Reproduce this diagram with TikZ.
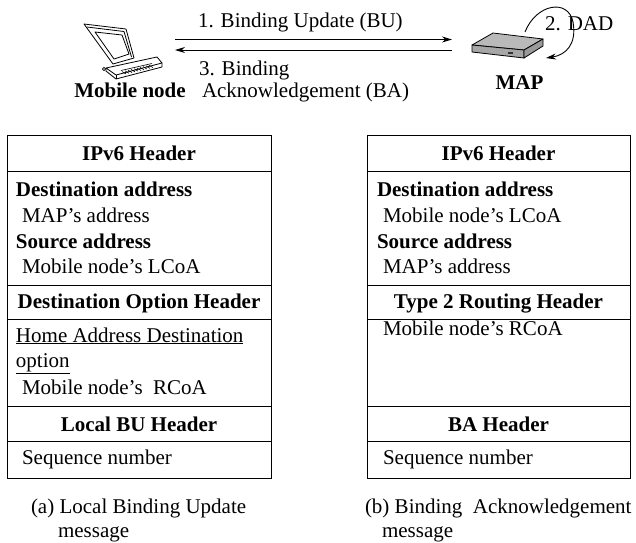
\documentclass[tikz,border=0pt]{standalone}
\usepackage{fontspec}
\setmainfont{Liberation Serif}
\usetikzlibrary{arrows.meta}
\begin{document}
\begin{tikzpicture}[x=1pt,y=-1pt,
  every node/.style={font=\fontsize{21}{25}\selectfont, inner sep=0pt, outer sep=0pt},
  rowbox/.style={draw, line width=1pt, anchor=north west, inner sep=0pt},
  lbox/.style={rowbox, minimum width=264pt},
  rbox/.style={rowbox, minimum width=263pt},
  hd/.style={font=\fontsize{21}{25}\selectfont\bfseries, anchor=base},
  bt/.style={font=\fontsize{21}{25}\selectfont\bfseries, anchor=base west},
  tx/.style={anchor=base west},
  device/.style={minimum width=93pt, minimum height=20pt},
  msg/.style={-{Stealth[length=10pt,width=6pt]}, line width=0.9pt},
  icon/.style={line width=0.8pt, line join=round},
]
\useasboundingbox (0,0) rectangle (636,542);

% ---------- devices ----------
\node[device] (mobile) at (128.5,45) {};
\node[device] (map) at (498.5,45) {};

% laptop
\draw[icon, fill=white] (84,24) -- (126,29) -- (134,58) -- (113,64) -- cycle;
\draw[icon] (87,27) -- (124,31.5) -- (131.5,57);
\draw[icon] (95,32) -- (122,35) -- (129,54) -- (114,59) -- cycle;
\draw[icon, fill=white] (106,68) -- (157,57) -- (162,63) -- (116,75) -- cycle;
\draw[icon] (106,68) -- (106,71) -- (116,79) -- (162,67) -- (162,63);
\draw[icon] (116,75) -- (116,79);
\foreach \i in {0,...,9}
  \draw[line width=0.6pt] ({122+3*\i},{71.5-0.7*\i}) -- ({126+3*\i},{74-0.7*\i});
\draw[line width=0.6pt] (121,70.5) -- (152,63.5);
\draw[icon] (104,69) circle (1.6);

% MAP box
\draw[icon, fill=gray!55] (472,45) -- (493,33) -- (543,39) -- (524,50) -- cycle;
\draw[icon, fill=gray!70] (472,45) -- (524,50) -- (524,58) -- (472,52) -- cycle;
\draw[icon, fill=gray!80] (524,50) -- (543,39) -- (543,46) -- (524,58) -- cycle;
\fill[black!80] (508,51.5) rectangle (513,53.5);

% labels of the devices
\node[hd] (mnlabel) at (130,97) {Mobile node};
\node[hd] (maplabel) at (519.5,89) {MAP};

% messages between the mobile node and the MAP
\draw[msg] ([yshift=5.5pt]mobile.east) -- ([yshift=5.5pt]map.west);
\draw[msg] ([yshift=-5pt]map.west) -- ([yshift=-5pt]mobile.east);
\node[tx] (bu) at (198,27) {1. Binding Update (BU)};
\node[tx] (ba1) at (199,75) {3. Binding};
\node[tx] (ba2) at (202,97) {Acknowledgement (BA)};

% duplicate address detection at the MAP
\coordinate (dadout) at (525,32);
\coordinate (dadin) at (546,58);
\node[tx] (dad) at (545,30) {2. DAD};
\draw[msg] (dadout) .. controls (536,4) and (568,-2) .. (573,22)
  .. controls (577,44) and (566,55) .. (dadin);

% ---------- (a) Local Binding Update message ----------
\node[lbox, minimum height=36pt] (a1) at (7,135) {};
\node[lbox, minimum height=114pt] (a2) at (7,171) {};
\node[lbox, minimum height=34pt] (a3) at (7,285) {};
\node[lbox, minimum height=87pt] (a4) at (7,319) {};
\node[lbox, minimum height=35pt] (a5) at (7,406) {};
\node[lbox, minimum height=37pt] (a6) at (7,441) {};

\node[hd] at (139,160) {IPv6 Header};
\node[bt] at (16,196) {Destination address};
\node[tx] at (22,222) {MAP’s address};
\node[bt] at (16,248) {Source address};
\node[tx] at (22,273) {Mobile node’s LCoA};
\node[hd] at (139,308) {Destination Option Header};
\node[tx] at (16,342) {\underline{Home Address Destination}};
\node[tx] at (16,367) {\underline{option}};
\node[tx] at (22,394) {Mobile node’s\ \ RCoA};
\node[hd] at (139,431) {Local BU Header};
\node[tx] at (22,464) {Sequence number};

\node[tx] at (31,513) {(a) Local Binding Update};
\node[tx] at (58,537) {message};

% ---------- (b) Binding Acknowledgement message ----------
\node[rbox, minimum height=36pt] (b1) at (367,135) {};
\node[rbox, minimum height=114pt] (b2) at (367,171) {};
\node[rbox, minimum height=34pt] (b3) at (367,285) {};
\node[rbox, minimum height=87pt] (b4) at (367,319) {};
\node[rbox, minimum height=35pt] (b5) at (367,406) {};
\node[rbox, minimum height=37pt] (b6) at (367,441) {};

\node[hd] at (498.5,160) {IPv6 Header};
\node[bt] at (377,196) {Destination address};
\node[tx] at (383,222) {Mobile node’s LCoA};
\node[bt] at (377,248) {Source address};
\node[tx] at (383,273) {MAP’s address};
\node[hd] at (498.5,308) {Type 2 Routing Header};
\node[tx] at (383,335) {Mobile node’s RCoA};
\node[hd] at (498.5,431) {BA Header};
\node[tx] at (383,464) {Sequence number};

\node[tx] at (365,513) {(b) Binding\ \ Acknowledgement};
\node[tx] at (382,537) {message};
\end{tikzpicture}
\end{document}
